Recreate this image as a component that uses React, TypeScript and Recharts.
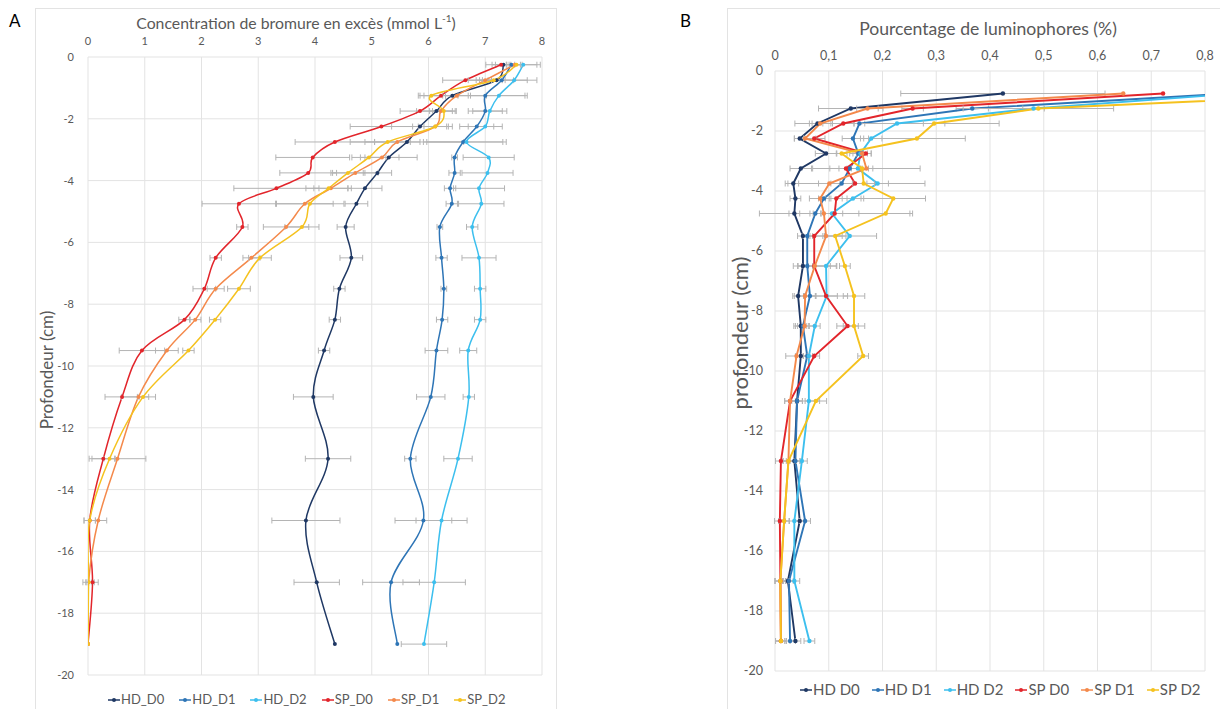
import React from 'react'
import { LineChart, Line, XAxis, YAxis, CartesianGrid, ErrorBar } from 'recharts'

// depths (cm)
const depthA = [-0.25, -0.75, -1.25, -1.75, -2.25, -2.75, -3.25, -3.75, -4.25, -4.75, -5.5, -6.5, -7.5, -8.5, -9.5, -11, -13, -15, -17, -19]
const depthB = [-0.75, -1.25, -1.75, -2.25, -2.75, -3.25, -3.75, -4.25, -4.75, -5.5, -6.5, -7.5, -8.5, -9.5, -11, -13, -15, -17, -19]

// A: excess bromide (mmol/L)
const hdD0A = [7.32, 7.2, 6.42, 6.14, 5.85, 5.62, 5.3, 5.1, 4.88, 4.73, 4.54, 4.64, 4.43, 4.35, 4.16, 3.97, 4.23, 3.84, 4.03, 4.35]
const hdD1A = [7.46, 7.29, 7.0, 7.0, 6.85, 6.61, 6.46, 6.46, 6.38, 6.41, 6.2, 6.23, 6.27, 6.24, 6.14, 6.04, 5.68, 5.91, 5.34, 5.45]
const hdD2A = [7.67, 7.51, 7.24, 7.08, 7.0, 6.67, 7.06, 7.04, 6.89, 6.93, 6.77, 6.89, 6.91, 6.91, 6.7, 6.71, 6.52, 6.23, 6.1, 5.92]
const spD0A = [7.28, 6.65, 6.22, 5.85, 5.17, 4.35, 3.96, 3.88, 3.32, 2.66, 2.72, 2.25, 2.05, 1.7, 0.95, 0.6, 0.27, 0.03, 0.08, 0.0]
const spD1A = [7.52, 7.0, 6.5, 6.22, 6.12, 5.45, 5.18, 4.71, 4.28, 3.82, 3.49, 2.88, 2.25, 1.89, 1.39, 0.89, 0.52, 0.18, 0.01, 0.0]
const spD2A = [7.55, 7.15, 6.05, 6.27, 6.12, 5.28, 4.95, 4.58, 4.24, 3.91, 3.77, 3.03, 2.66, 2.24, 1.77, 0.97, 0.38, 0.03, 0.01, 0.0]

const hdD0Aerr = [0.2, 0.3, 0.6, 0.35, 0.5, 1.0, 0.5, 0.25, 0.3, 0.2, 0.15, 0.2, 0.1, 0.1, 0.1, 0.35, 0.4, 0.6, 0.4, 0]
const hdD1Aerr = [0.45, 0.45, 0.7, 0.3, 0.3, 0.7, 0.05, 0.1, 0.1, 0.1, 0.05, 0.1, 0.05, 0.1, 0.2, 0.25, 0.1, 0.5, 0.5, 0]
const hdD2Aerr = [0.3, 0.4, 0.5, 0.3, 0.3, 0.7, 0.45, 0.45, 0.45, 0.4, 0.1, 0.3, 0.1, 0.1, 0.15, 0.1, 0.25, 0.45, 0.55, 0.4]
const spD0Aerr = [0.1, 0.4, 0.3, 0.35, 0.55, 0.7, 0.65, 0.5, 0.75, 0.65, 0.1, 0.1, 0.2, 0.1, 0.4, 0.3, 0.2, 0.1, 0.1, 0]
const spD1Aerr = [0.1, 0.3, 0.2, 0.2, 0.3, 0.4, 0.3, 0.4, 0.3, 0.5, 0.4, 0.15, 0.15, 0.1, 0.2, 0.3, 0.5, 0.15, 0.1, 0]
const spD2Aerr = [0.1, 0.2, 0.2, 0.2, 0.2, 0.4, 0.3, 0.3, 0.4, 0.6, 0.3, 0.2, 0.2, 0.1, 0.1, 0.1, 0.1, 0.1, 0.05, 0]

// B: luminophores (%)
const hdD0B = [0.424, 0.141, 0.079, 0.046, 0.095, 0.048, 0.034, 0.038, 0.036, 0.052, 0.052, 0.043, 0.048, 0.048, 0.041, 0.036, 0.046, 0.024, 0.038]
const hdD1B = [0.85, 0.367, 0.157, 0.145, 0.155, 0.139, 0.124, 0.091, 0.075, 0.06, 0.06, 0.065, 0.052, 0.06, 0.041, 0.038, 0.056, 0.026, 0.028]
const hdD2B = [0.86, 0.481, 0.227, 0.179, 0.159, 0.154, 0.191, 0.145, 0.106, 0.139, 0.095, 0.096, 0.074, 0.063, 0.063, 0.05, 0.036, 0.036, 0.064]
const spD0B = [0.722, 0.256, 0.127, 0.073, 0.169, 0.132, 0.149, 0.114, 0.111, 0.073, 0.073, 0.095, 0.135, 0.073, 0.028, 0.011, 0.009, 0.01, 0.011]
const spD1B = [0.648, 0.172, 0.084, 0.056, 0.162, 0.17, 0.101, 0.084, 0.091, 0.095, 0.074, 0.056, 0.055, 0.04, 0.028, 0.025, 0.017, 0.01, 0.011]
const spD2B = [1.11, 0.49, 0.296, 0.264, 0.124, 0.162, 0.165, 0.22, 0.206, 0.112, 0.13, 0.147, 0.147, 0.164, 0.076, 0.025, 0.017, 0.01, 0.011]

const hdD0Berr = [0.19, 0.06, 0.01, 0.01, 0.02, 0.02, 0.01, 0.01, 0.01, 0.01, 0.01, 0.01, 0.01, 0.01, 0.01, 0.01, 0.01, 0.01, 0.01]
const hdD1Berr = [0, 0.03, 0.01, 0.02, 0.01, 0.02, 0.02, 0.01, 0.01, 0.01, 0.01, 0.01, 0.01, 0.01, 0.01, 0.01, 0.01, 0.01, 0.01]
const hdD2Berr = [0, 0.02, 0.19, 0.02, 0.02, 0.02, 0.02, 0.02, 0.02, 0.05, 0.02, 0.02, 0.01, 0.01, 0.02, 0.01, 0.01, 0.01, 0.01]
const spD0Berr = [0, 0.02, 0.02, 0.02, 0.01, 0.03, 0.13, 0.02, 0.14, 0.02, 0.03, 0.04, 0.02, 0.01, 0.01, 0.01, 0.01, 0.01, 0.01]
const spD1Berr = [0, 0.02, 0.02, 0.02, 0.01, 0.1, 0.02, 0.02, 0.02, 0.03, 0.04, 0.02, 0.02, 0.02, 0.01, 0.01, 0.01, 0.01, 0.01]
const spD2Berr = [0, 0.14, 0.02, 0.09, 0.01, 0.02, 0.02, 0.06, 0.05, 0.02, 0.01, 0.02, 0.02, 0.01, 0.02, 0.01, 0.01, 0.01, 0.01]

const ticksA = [0, 1, 2, 3, 4, 5, 6, 7, 8]
const ticksB = [0, 0.1, 0.2, 0.3, 0.4, 0.5, 0.6, 0.7, 0.8]
const depthTicks = [0, -2, -4, -6, -8, -10, -12, -14, -16, -18, -20]

const keys = ['hdD0', 'hdD1', 'hdD2', 'spD0', 'spD1', 'spD2']
const namesA = ['HD_D0', 'HD_D1', 'HD_D2', 'SP_D0', 'SP_D1', 'SP_D2']
const namesB = ['HD D0', 'HD D1', 'HD D2', 'SP D0', 'SP D1', 'SP D2']
const colours = ['#1f3864', '#2e75b6', '#3cbfee', '#e2252b', '#f4894b', '#f5c21f']

const dataA = depthA.map((depth, i) => ({
  depth,
  hdD0: hdD0A[i], hdD1: hdD1A[i], hdD2: hdD2A[i], spD0: spD0A[i], spD1: spD1A[i], spD2: spD2A[i],
  hdD0e: hdD0Aerr[i], hdD1e: hdD1Aerr[i], hdD2e: hdD2Aerr[i], spD0e: spD0Aerr[i], spD1e: spD1Aerr[i], spD2e: spD2Aerr[i],
}))

const dataB = depthB.map((depth, i) => ({
  depth,
  hdD0: hdD0B[i], hdD1: hdD1B[i], hdD2: hdD2B[i], spD0: spD0B[i], spD1: spD1B[i], spD2: spD2B[i],
  hdD0e: hdD0Berr[i], hdD1e: hdD1Berr[i], hdD2e: hdD2Berr[i], spD0e: spD0Berr[i], spD1e: spD1Berr[i], spD2e: spD2Berr[i],
}))

// Excel-like smoothed line (catmull-rom style bezier)
function smoothCurve(context: any) {
  let pts: number[][] = []
  return {
    areaStart() {},
    areaEnd() {},
    lineStart() { pts = [] },
    point(x: number, y: number) { pts.push([+x, +y]) },
    lineEnd() {
      const n = pts.length
      if (!n) return
      context.moveTo(pts[0][0], pts[0][1])
      const t = 1 / 6
      for (let i = 0; i < n - 1; i++) {
        const p0 = pts[i === 0 ? 0 : i - 1]
        const p1 = pts[i]
        const p2 = pts[i + 1]
        const p3 = pts[i + 2 < n ? i + 2 : n - 1]
        context.bezierCurveTo(
          p1[0] + (p2[0] - p0[0]) * t, p1[1] + (p2[1] - p0[1]) * t,
          p2[0] - (p3[0] - p1[0]) * t, p2[1] - (p3[1] - p1[1]) * t,
          p2[0], p2[1],
        )
      }
    },
  }
}

const font = 'Lato, "Open Sans", sans-serif'
const grey = '#595959'

function LegendRow({ names, fontSize, gap, left, top }: { names: string[]; fontSize: number; gap: number; left: number; top: number }) {
  return (
    <div style={{ position: 'absolute', left, top, display: 'flex', gap, fontFamily: font, fontSize, color: grey, lineHeight: 1 }}>
      {names.map((n, i) => (
        <div key={n} style={{ display: 'flex', alignItems: 'center' }}>
          <svg width={12} height={8} style={{ marginRight: 1 }}>
            <line x1={0} y1={4} x2={12} y2={4} stroke={colours[i]} strokeWidth={1.5} />
            <circle cx={6} cy={4} r={2} fill={colours[i]} />
          </svg>
          <span>{n}</span>
        </div>
      ))}
    </div>
  )
}

export default function App() {
  return (
    <div style={{ position: 'absolute', left: 0, top: 0, width: 1220, height: 709, background: '#fff', overflow: 'hidden', fontFamily: font }}>
      {/* panel A */}
      <div style={{ position: 'absolute', left: 9, top: 10, fontSize: 17, color: '#000' }}>A</div>
      <div style={{ position: 'absolute', left: 35, top: 8, width: 522, height: 710, border: '1px solid #e3e3e3', boxSizing: 'border-box' }} />
      <div style={{ position: 'absolute', left: 35, top: 8 }}>
        <LineChart width={522} height={701} data={dataA} layout="vertical" margin={{ top: 29, right: 15, bottom: 34, left: 0 }}>
          <CartesianGrid stroke="#e3e3e3" />
          <XAxis type="number" orientation="top" domain={[0, 8]} ticks={ticksA} allowDataOverflow
            axisLine={false} tickLine={false} height={20} tickMargin={6}
            tick={{ fill: grey, fontSize: 11, fontFamily: font }} />
          <YAxis type="number" dataKey="depth" domain={[-20, 0]} ticks={depthTicks} reversed allowDataOverflow
            axisLine={false} tickLine={false} width={53} tickMargin={8}
            tick={{ fill: grey, fontSize: 11, fontFamily: font }} />
          {keys.map((k, i) => (
            <Line key={k} dataKey={k} name={namesA[i]} type={smoothCurve as any} stroke={colours[i]} strokeWidth={1.5}
              dot={{ r: 2, fill: colours[i], stroke: colours[i], strokeWidth: 0 }} isAnimationActive={false}>
              <ErrorBar dataKey={k + 'e'} direction="x" width={3} stroke="#b4b4b4" strokeWidth={1} />
            </Line>
          ))}
        </LineChart>
      </div>
      <div style={{ position: 'absolute', left: 296, top: 22, transform: 'translate(-50%, -50%)', whiteSpace: 'nowrap', fontSize: 15.8, color: grey }}>
        Concentration de bromure en excès (mmol L<sup style={{ fontSize: 10 }}>-1</sup>)
      </div>
      <div style={{ position: 'absolute', left: 46, top: 370, transform: 'translate(-50%, -50%) rotate(-90deg)', whiteSpace: 'nowrap', fontSize: 17, color: grey }}>
        Profondeur (cm)
      </div>
      <LegendRow names={namesA} fontSize={13} gap={15} left={108} top={693} />

      {/* panel B */}
      <div style={{ position: 'absolute', left: 680, top: 10, fontSize: 17, color: '#000' }}>B</div>
      <div style={{ position: 'absolute', left: 727, top: 8, width: 500, height: 710, border: '1px solid #e3e3e3', boxSizing: 'border-box' }} />
      <div style={{ position: 'absolute', left: 727, top: 8 }}>
        <LineChart width={493} height={701} data={dataB} layout="vertical" margin={{ top: 43, right: 15, bottom: 38, left: 0 }}>
          <CartesianGrid stroke="#e3e3e3" />
          <XAxis type="number" orientation="top" domain={[0, 0.8]} ticks={ticksB} allowDataOverflow
            axisLine={false} tickLine={false} height={20} tickMargin={5}
            tickFormatter={(v: number) => String(v).replace('.', ',')}
            tick={{ fill: grey, fontSize: 12.5, fontFamily: font }} />
          <YAxis type="number" dataKey="depth" domain={[-20, 0]} ticks={depthTicks} reversed allowDataOverflow
            axisLine={false} tickLine={false} width={48} tickMargin={6}
            tick={{ fill: grey, fontSize: 12.5, fontFamily: font }} />
          {keys.map((k, i) => (
            <Line key={k} dataKey={k} name={namesB[i]} type="linear" stroke={colours[i]} strokeWidth={1.9}
              dot={{ r: 2.2, fill: colours[i], stroke: colours[i], strokeWidth: 0 }} isAnimationActive={false}>
              <ErrorBar dataKey={k + 'e'} direction="x" width={3} stroke="#b4b4b4" strokeWidth={1} />
            </Line>
          ))}
        </LineChart>
      </div>
      <div style={{ position: 'absolute', left: 988, top: 28, transform: 'translate(-50%, -50%)', whiteSpace: 'nowrap', fontSize: 17.6, color: grey }}>
        Pourcentage de luminophores (%)
      </div>
      <div style={{ position: 'absolute', left: 739, top: 333, transform: 'translate(-50%, -50%) rotate(-90deg)', whiteSpace: 'nowrap', fontSize: 22, color: grey }}>
        profondeur (cm)
      </div>
      <LegendRow names={namesB} fontSize={15} gap={12} left={800} top={682} />
    </div>
  )
}
